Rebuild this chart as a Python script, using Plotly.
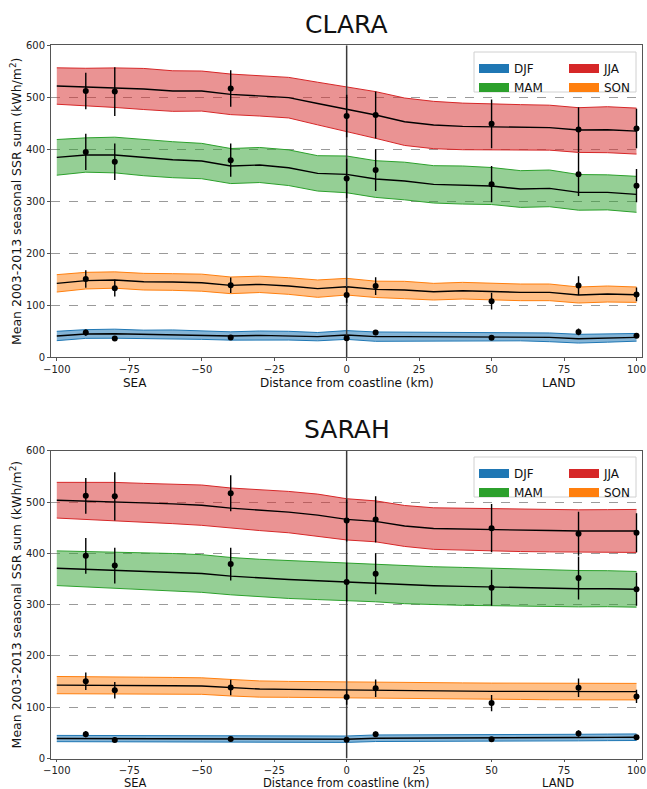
import plotly.graph_objects as go

# ---------------- data ----------------
dist = [-100, -90, -80, -70, -60, -50, -40, -30, -20, -10, 0,
        10, 20, 30, 40, 50, 60, 70, 80, 90, 100]

seasons = ["DJF", "MAM", "JJA", "SON"]

# CLARA satellite: mean and spread (std) along the coast-normal transect
clara_djf_mean = [41, 44.8, 45.4, 44.2, 44.2, 42.9, 41, 42.2, 41.6, 39.7, 42.9,
                  39.7, 39.7, 39.7, 39.7, 39, 39.7, 38.4, 35.8, 37.1, 38.4]
clara_djf_std = [9, 8.4, 8.7, 8, 8.4, 8.4, 8, 8.4, 8.4, 8, 8.4,
                 9, 8.7, 8.3, 8, 8, 8, 8.4, 8.4, 8, 7.4]
clara_mam_mean = [384.5, 389, 389, 383.9, 380, 377.4, 367.8, 369.8, 364.6, 353.7, 351.8,
                  342.8, 339, 332.6, 331.3, 329.4, 323.6, 324.9, 317.2, 317.2, 313.4]
clara_mam_std = [34.3, 33, 34.3, 34.7, 34.6, 34, 33.7, 33.7, 34.3, 34, 35.3,
                 35.3, 36.2, 35.9, 36.6, 35.6, 35.3, 35.3, 34.3, 33.7, 34.6]
clara_jja_mean = [521.7, 519.8, 518.5, 516, 512, 512, 505.7, 503, 499.3, 488, 476.8,
                  466, 453, 446.7, 444, 442.8, 442, 441.6, 437, 437.7, 435]
clara_jja_std = [35, 36, 38, 39.5, 39, 38.5, 39, 39, 39, 41, 42.5,
                 44.9, 45.6, 45.5, 44.8, 43.9, 43.9, 43.2, 43, 44.2, 44.2]
clara_son_mean = [142.2, 147.4, 148.6, 145.4, 144.8, 143.5, 138.4, 140.3, 137.1, 132, 135.8,
                  130.7, 129.4, 126.2, 128.1, 126.2, 124.9, 124.9, 119.8, 121.7, 120.4]
clara_son_std = [16.7, 16, 15.7, 16, 16, 16.4, 16, 15.7, 16, 16.7, 16,
                 15.7, 16.7, 16, 16, 16, 16, 16, 15.4, 15.4, 14.8]

# SARAH satellite
sarah_djf_mean = [38.9, 38.9, 38.9, 38.9, 38.9, 38.9, 37.6, 37.6, 37.6, 37.6, 37.6,
                  39.5, 39.5, 39.5, 39.5, 39.5, 40, 40.4, 40.8, 41.2, 41.5]
sarah_djf_std = [6.1, 6.1, 6.1, 6.1, 6.1, 6.1, 6.2, 6.2, 6.2, 6.2, 6.2,
                 6.4, 6.4, 6.4, 6.4, 6.4, 6.4, 6.4, 6.4, 6.4, 6.4]
sarah_mam_mean = [370.9, 369, 367.7, 365.8, 363.2, 360.6, 355.5, 351.6, 349, 346.5, 343.9,
                  341.9, 338.8, 336.8, 335.5, 334.3, 333, 332.3, 331, 331, 329.8]
sarah_mam_std = [33.8, 34.5, 35.1, 35.8, 36.4, 36.7, 36.4, 36.7, 37, 36.7, 36.1,
                 36.4, 37, 37, 37, 36.4, 36.1, 35.7, 35.4, 35.1, 34.8]
sarah_jja_mean = [503.5, 502.2, 500.9, 498.3, 496.4, 493.8, 488, 484.2, 480.3, 474.5, 466.2,
                  462.3, 453.3, 448.2, 446.9, 445.6, 444.9, 444.3, 443.6, 443.6, 443.6]
sarah_jja_std = [34.8, 36, 37.3, 38, 38.6, 39.3, 39.3, 39.9, 40.3, 40.9, 40.2,
                 39.9, 39.9, 40.5, 40.9, 40.9, 41.5, 41.5, 41.2, 41.5, 41.9]
sarah_son_mean = [143.1, 143.1, 142.5, 142.5, 141.9, 141.2, 138, 135.4, 134.8, 134.1, 133.5,
                  133.5, 132.8, 132.2, 131.6, 130.9, 130.9, 130.3, 130.3, 130.3, 130.3]
sarah_son_std = [16.8, 16.8, 16.4, 16, 16.1, 16.1, 16.1, 15.8, 15.5, 15.5, 15.5,
                 15.5, 15.8, 15.8, 15.8, 16.1, 15.8, 15.8, 15.8, 15.8, 16.1]

# Ground stations (same in both panels)
obs_x = [-90, -80, -40, 0, 10, 50, 80, 100]
obs_djf = [47.5, 36.3, 38.2, 36.5, 47.5, 37.7, 48.8, 41.3]
obs_djf_err = [6, 4, 4, 3, 5, 3, 6.5, 3]
obs_mam = [395, 376, 379, 344, 360, 333, 352, 330]
obs_mam_err = [35, 35, 32, 38, 40, 35, 42, 32]
obs_jja = [512, 511, 517, 464, 466, 449, 438, 440]
obs_jja_err = [35, 47, 35, 41, 45, 47, 43, 38]
obs_son = [150.6, 133, 138.5, 120, 137, 108, 138, 121]
obs_son_err = [17, 16, 15, 15, 17, 16, 18, 13]

xticks = [-100, -75, -50, -25, 0, 25, 50, 75, 100]
yticks = [0, 100, 200, 300, 400, 500, 600]
coast_x = 0
side_labels = [("SEA", -73), ("LAND", 73)]

colors = {"DJF": "#1f77b4", "MAM": "#2ca02c", "JJA": "#d62728", "SON": "#ff7f0e"}
fills = {"DJF": "rgba(31,119,180,0.55)", "MAM": "rgba(44,160,44,0.5)",
         "JJA": "rgba(214,39,40,0.5)", "SON": "rgba(255,127,14,0.5)"}

panels = [
    ("CLARA", {"DJF": (clara_djf_mean, clara_djf_std), "MAM": (clara_mam_mean, clara_mam_std),
               "JJA": (clara_jja_mean, clara_jja_std), "SON": (clara_son_mean, clara_son_std)}),
    ("SARAH", {"DJF": (sarah_djf_mean, sarah_djf_std), "MAM": (sarah_mam_mean, sarah_mam_std),
               "JJA": (sarah_jja_mean, sarah_jja_std), "SON": (sarah_son_mean, sarah_son_std)}),
]
obs = {"DJF": (obs_djf, obs_djf_err), "MAM": (obs_mam, obs_mam_err),
       "JJA": (obs_jja, obs_jja_err), "SON": (obs_son, obs_son_err)}

W, H = 647, 789
FONT = "DejaVu Sans"

# pixel geometry -> paper fractions
x_dom = [51 / W, 642.3 / W]
y_doms = [[1 - 357.3 / H, 1 - 45.3 / H], [1 - 758.5 / H, 1 - 450.7 / H]]
title_y = [1 - 25 / H, 1 - 429 / H]
sub_y = [1 - 383.5 / H, 1 - 782.5 / H]
sub_size = [12, 11.5]
legend_top = [1 - 54 / H, 1 - 459 / H]
x_ticklen = [3, 2]

fig = go.Figure()
legend_names = [("legend", "legend2"), ("legend3", "legend4")]

for p, (name, series) in enumerate(panels):
    xa = "x" if p == 0 else "x2"
    ya = "y" if p == 0 else "y2"
    for s in seasons:
        mean, std = series[s]
        lower = [m - e for m, e in zip(mean, std)]
        upper = [m + e for m, e in zip(mean, std)]
        fig.add_trace(go.Scatter(x=dist, y=lower, mode="lines", xaxis=xa, yaxis=ya,
                                 line=dict(color=colors[s], width=1), showlegend=False,
                                 hoverinfo="skip"))
        fig.add_trace(go.Scatter(x=dist, y=upper, mode="lines", xaxis=xa, yaxis=ya,
                                 line=dict(color=colors[s], width=1), fill="tonexty",
                                 fillcolor=fills[s], showlegend=False, hoverinfo="skip"))
        fig.add_trace(go.Scatter(x=dist, y=mean, mode="lines", xaxis=xa, yaxis=ya,
                                 line=dict(color="black", width=1.4), showlegend=False))
    # coastline
    fig.add_trace(go.Scatter(x=[coast_x, coast_x], y=[yticks[0], yticks[-1]], mode="lines",
                             xaxis=xa, yaxis=ya, line=dict(color="#3a3a3a", width=1.5),
                             showlegend=False, hoverinfo="skip"))
    for s in seasons:
        vals, errs = obs[s]
        fig.add_trace(go.Scatter(x=obs_x, y=vals, mode="markers", xaxis=xa, yaxis=ya,
                                 marker=dict(color="black", size=6),
                                 error_y=dict(type="data", array=errs, thickness=1.4,
                                              width=0, color="black"),
                                 showlegend=False))
    # legend entries
    for s in ["DJF", "MAM", "JJA", "SON"]:
        lg = legend_names[p][0] if s in ("DJF", "MAM") else legend_names[p][1]
        fig.add_trace(go.Scatter(x=[None], y=[None], mode="lines", xaxis=xa, yaxis=ya,
                                 name=s, legend=lg,
                                 line=dict(color=colors[s], width=9)))

axis_common = dict(showline=True, mirror=True, linecolor="#555", linewidth=1,
                   ticks="outside", ticklen=3, tickcolor="#555",
                   tickfont=dict(family=FONT, size=10, color="#222"), zeroline=False)

layout = dict(width=W, height=H, margin=dict(l=0, r=0, t=0, b=0),
              paper_bgcolor="white", plot_bgcolor="white",
              font=dict(family=FONT, color="#111"))

ytitle = "Mean 2003-2013 seasonal SSR sum (kWh/m<sup>2</sup>)"
for p in range(2):
    xk = "xaxis" if p == 0 else "xaxis2"
    yk = "yaxis" if p == 0 else "yaxis2"
    layout[xk] = dict(axis_common, domain=x_dom, range=[-102, 102], tickvals=xticks,
                      ticklen=x_ticklen[p],
                      showgrid=False, anchor="y" if p == 0 else "y2", automargin=False)
    layout[yk] = dict(axis_common, domain=y_doms[p], range=[0, 600], tickvals=yticks,
                      showgrid=True, gridcolor="#9a9a9a", griddash="dash", gridwidth=1,
                      anchor="x" if p == 0 else "x2",
                      title=dict(text=ytitle, standoff=1,
                                 font=dict(family=FONT, size=12.5, color="#111")),
                      automargin=False)
    for j, lname in enumerate(legend_names[p]):
        layout[lname] = dict(x=(474 + 90 * j) / W, y=legend_top[p], xanchor="left",
                             yanchor="top", bgcolor="rgba(0,0,0,0)", borderwidth=0,
                             font=dict(family=FONT, size=12, color="#111"),
                             itemwidth=30, tracegroupgap=0, traceorder="normal")

fig.update_layout(**layout)

annotations = []
shapes = []
for p, (name, _) in enumerate(panels):
    annotations.append(dict(text=name, x=(x_dom[0] + x_dom[1]) / 2, y=title_y[p],
                            xref="paper", yref="paper", showarrow=False,
                            xanchor="center", yanchor="middle",
                            font=dict(family=FONT, size=25, color="#111")))
    xr = "x" if p == 0 else "x2"
    annotations.append(dict(text="Distance from coastline (km)", x=coast_x, y=sub_y[p],
                            xref=xr, yref="paper", showarrow=False, yanchor="middle",
                            borderpad=0,
                            font=dict(family=FONT, size=sub_size[p], color="#111")))
    for txt, xpos in side_labels:
        annotations.append(dict(text=txt, x=xpos, y=sub_y[p], xref=xr, yref="paper",
                                showarrow=False, yanchor="middle", borderpad=0,
                                font=dict(family=FONT, size=sub_size[p], color="#111")))
    top_px = 52 if p == 0 else 457
    shapes.append(dict(type="rect", xref="paper", yref="paper",
                       x0=474 / W, x1=636 / W, y0=1 - (top_px + 40) / H, y1=1 - top_px / H,
                       fillcolor="rgba(255,255,255,0.85)", line=dict(color="#d0d0d0", width=1),
                       layer="above"))

fig.update_layout(annotations=annotations, shapes=shapes)
fig.write_html("out.html")
